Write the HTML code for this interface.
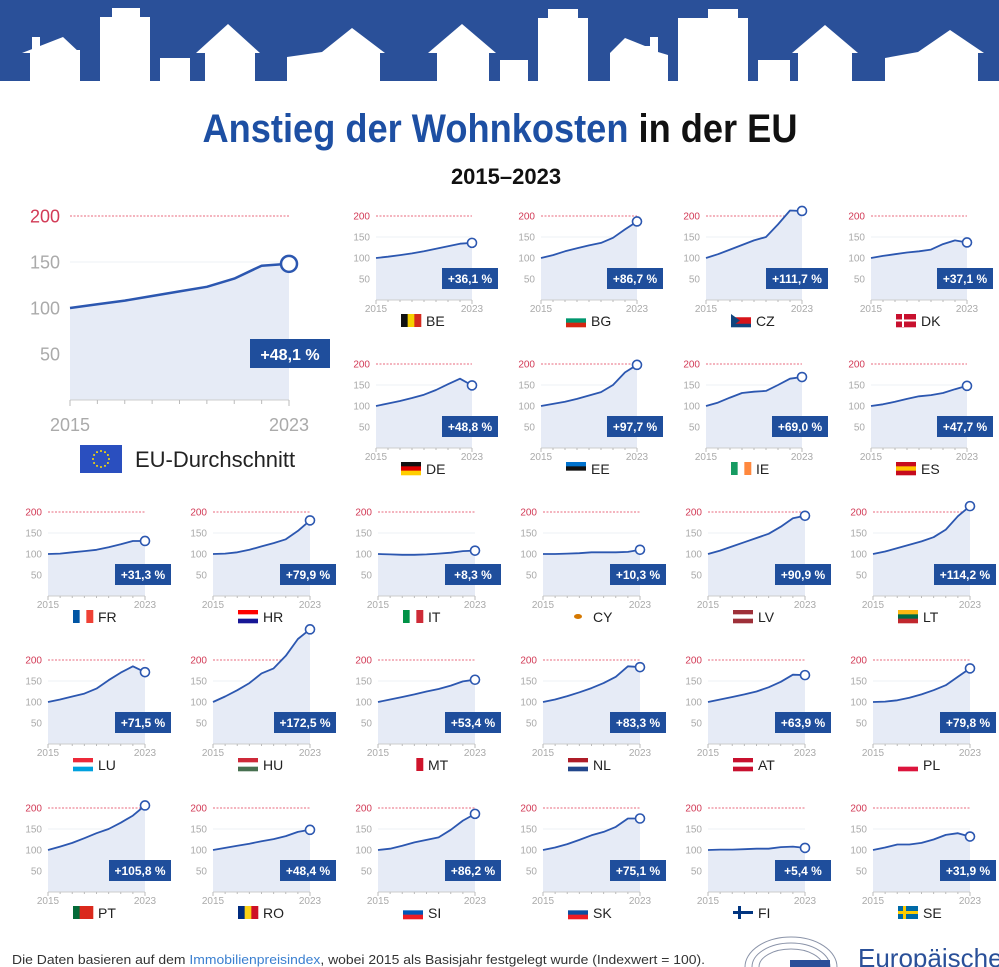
<!DOCTYPE html>
<html><head><meta charset="utf-8"><style>
html,body{margin:0;padding:0;background:#fff;width:999px;height:967px;overflow:hidden}
svg{display:block}
</style></head><body>
<svg id="s" width="999" height="967" viewBox="0 0 999 967" xmlns="http://www.w3.org/2000/svg" font-family="Liberation Sans, sans-serif">
<rect x="0" y="0" width="999" height="81" fill="#2a5099"/>
<g fill="#fff">
<rect x="30" y="50" width="50" height="32"/><rect x="32" y="37" width="8" height="15"/><polygon points="22,53 63,37 80,53"/>
<rect x="100" y="17" width="50" height="65"/><rect x="112" y="8" width="28" height="12"/>
<rect x="160" y="58" width="30" height="24"/>
<rect x="205" y="50" width="50" height="32"/><polygon points="196,53 228,24 260,53"/>
<polygon points="287,57 322,52 352,28 385,53 380,53 380,82 287,82"/>
<rect x="437" y="50" width="52" height="32"/><polygon points="428,53 462,24 496,53"/>
<rect x="500" y="60" width="28" height="22"/>
<rect x="538" y="18" width="50" height="64"/><rect x="548" y="9" width="30" height="12"/>
<polygon points="610,53 625,38 645,46 650,46 650,37 658,37 658,52 668,55 668,82 610,82"/>
<rect x="678" y="18" width="70" height="64"/><rect x="708" y="9" width="30" height="12"/>
<rect x="758" y="60" width="32" height="22"/>
<rect x="798" y="50" width="54" height="32"/><polygon points="792,53 825,25 858,53"/>
<polygon points="885,58 918,52 950,30 984,53 978,53 978,82 885,82"/>
</g>
<text x="500" y="142" text-anchor="middle" font-size="40" font-weight="bold" font-stretch="condensed" style="font-family:'Liberation Sans Narrow','Liberation Sans',sans-serif" textLength="595" lengthAdjust="spacingAndGlyphs"><tspan fill="#1d4fa3">Anstieg der Wohnkosten</tspan><tspan fill="#111"> in der EU</tspan></text>
<text x="506" y="184" text-anchor="middle" font-size="22" font-weight="bold" fill="#111" style="font-family:'Liberation Sans Narrow','Liberation Sans',sans-serif">2015–2023</text>
<g id="charts"></g>
<text x="12" y="964" font-size="12.5" fill="#333" textLength="693" lengthAdjust="spacingAndGlyphs" style="font-family:'Liberation Sans Narrow','Liberation Sans',sans-serif">Die Daten basieren auf dem <tspan fill="#3a7fd0">Immobilienpreisindex</tspan>, wobei 2015 als Basisjahr festgelegt wurde (Indexwert = 100).</text>
<g stroke="#8a93a8" fill="none" stroke-width="1"><path d="M745,967 A46,30 0 0 1 837,967"/><path d="M752,967 A39,24 0 0 1 830,967"/><path d="M759,967 A32,18 0 0 1 823,967"/></g>
<rect x="790" y="960" width="40" height="7" fill="#2a5099"/>
<text x="858" y="967" font-size="26" fill="#2a5099">Europäische</text>
</svg>
<script>
const D={BE:[100,103,107,111,116,122,128,134,136],BG:[100,107,116,123,130,136,148,168,187],CZ:[100,109,120,131,142,150,180,213,212],DK:[100,105,109,113,116,120,133,142,137],
DE:[100,106,112,119,127,138,152,165,149],EE:[100,105,110,117,125,133,150,180,198],IE:[100,108,120,131,134,136,150,165,169],ES:[100,104,110,117,123,126,131,140,148],
FR:[100,101,104,107,110,116,123,131,131],HR:[100,101,104,110,118,126,135,155,180],IT:[100,99,98,98,99,101,103,107,108],CY:[100,100,101,102,104,104,104,105,110],
LV:[100,108,118,128,138,148,165,185,191],LT:[100,106,114,122,130,140,158,190,214],LU:[100,106,113,120,132,152,170,185,171],HU:[100,113,128,145,168,180,210,250,273],
MT:[100,106,112,118,125,131,139,149,153],NL:[100,106,114,123,133,145,160,185,183],AT:[100,106,112,118,125,135,148,165,164],PL:[100,101,104,110,118,128,140,160,180],
PT:[100,108,117,128,140,150,165,182,206],RO:[100,105,110,115,121,126,133,143,148],SI:[100,103,110,118,124,130,148,170,186],SK:[100,106,114,124,135,143,155,175,175],
FI:[100,101,101,102,103,103,107,108,105],SE:[100,106,113,113,117,125,136,140,132]};
const P={BE:"+36,1 %",BG:"+86,7 %",CZ:"+111,7 %",DK:"+37,1 %",DE:"+48,8 %",EE:"+97,7 %",IE:"+69,0 %",ES:"+47,7 %",FR:"+31,3 %",HR:"+79,9 %",IT:"+8,3 %",CY:"+10,3 %",LV:"+90,9 %",LT:"+114,2 %",LU:"+71,5 %",HU:"+172,5 %",MT:"+53,4 %",NL:"+83,3 %",AT:"+63,9 %",PL:"+79,8 %",PT:"+105,8 %",RO:"+48,4 %",SI:"+86,2 %",SK:"+75,1 %",FI:"+5,4 %",SE:"+31,9 %"};
const F={BE:["v","#111","#f5d000","#d52b1e"],BG:["h","#fff","#00966e","#d62612"],CZ:["h","#fff","#d7141a","#d7141a","#11457e"],DK:["h","#c8102e","#c8102e","#c8102e"],DE:["h","#111","#d00","#ffce00"],EE:["h","#0072ce","#111","#fff"],IE:["v","#169b62","#fff","#ff883e"],ES:["h","#c60b1e","#ffc400","#c60b1e"],FR:["v","#0055a4","#fff","#ef4135"],HR:["h","#f00","#fff","#171796"],IT:["v","#009246","#fff","#ce2b37"],CY:["h","#fff","#fff","#fff"],LV:["h","#9e3039","#fff","#9e3039"],LT:["h","#fdb913","#006a44","#c1272d"],LU:["h","#ed2939","#fff","#00a1de"],HU:["h","#ce2939","#fff","#477050"],MT:["v","#fff","#fff","#cf142b"],NL:["h","#ae1c28","#fff","#21468b"],AT:["h","#c8102e","#fff","#c8102e"],PL:["h","#fff","#fff","#dc143c"],PT:["v","#046a38","#da291c","#da291c"],RO:["v","#002b7f","#fcd116","#ce1126"],SI:["h","#fff","#0057b8","#ed1c24"],SK:["h","#fff","#0b4ea2","#ee1c25"],FI:["h","#fff","#003580","#fff"],SE:["h","#006aa7","#fecc00","#006aa7"]};
let out="";
function flag(c,x,y,w,h){const f=F[c];let s="";const n=f.length-1;for(let i=0;i<n;i++){if(f[0]=="v")s+=`<rect x="${x+i*w/n}" y="${y}" width="${w/n+0.3}" height="${h}" fill="${f[i+1]}"/>`;else s+=`<rect x="${x}" y="${y+i*h/n}" width="${w}" height="${h/n+0.3}" fill="${f[i+1]}"/>`;}
if(c=="DK")s+=`<rect x="${x+6}" y="${y}" width="2" height="${h}" fill="#fff"/><rect x="${x}" y="${y+5.5}" width="${w}" height="2" fill="#fff"/>`;
if(c=="FI")s=`<rect x="${x}" y="${y}" width="${w}" height="${h}" fill="#fff"/><rect x="${x+5}" y="${y}" width="3" height="${h}" fill="#003580"/><rect x="${x}" y="${y+5}" width="${w}" height="3" fill="#003580"/>`;
if(c=="SE")s=`<rect x="${x}" y="${y}" width="${w}" height="${h}" fill="#006aa7"/><rect x="${x+5}" y="${y}" width="3" height="${h}" fill="#fecc00"/><rect x="${x}" y="${y+5}" width="${w}" height="3" fill="#fecc00"/>`;
if(c=="CZ")s+=`<polygon points="${x},${y} ${x+9},${y+h/2} ${x},${y+h}" fill="#11457e"/>`;
if(c=="CY")s+=`<ellipse cx="${x+w/2}" cy="${y+h/2}" rx="4" ry="2.5" fill="#d57800"/>`;
return s;}
function chart(x0,top,w,sc,vals,pct,big){
 const base=top+200*sc;const yv=v=>top+(200-v)*sc;const step=w/8;
 let s="";const fs=big?18:10;
 s+=`<line x1="${x0}" y1="${top}" x2="${x0+w}" y2="${top}" stroke="#e86a7e" stroke-width="1" stroke-dasharray="2,1.5"/>`;
 [[200,"#d23a56"],[150,"#aaa"],[100,"#aaa"],[50,"#aaa"]].forEach(([v,c])=>{s+=`<text x="${x0-(big?10:6)}" y="${yv(v)+fs*0.36}" text-anchor="end" font-size="${fs}" fill="${c}">${v}</text>`;if(v<200)s+=`<line x1="${x0}" x2="${x0+w}" y1="${yv(v)}" y2="${yv(v)}" stroke="#eef0f4"/>`;});
 let pts=vals.map((v,i)=>[x0+i*step,yv(v)]);
 let d="M"+pts.map(p=>p[0].toFixed(1)+","+p[1].toFixed(1)).join(" L");
 s+=`<path d="${d} L${x0+w},${base} L${x0},${base} Z" fill="#e6ebf6"/>`;
 s+=`<line x1="${x0}" x2="${x0+w}" y1="${base}" y2="${base}" stroke="#ccc"/>`;
 for(let i=0;i<9;i++)s+=`<line x1="${x0+i*step}" x2="${x0+i*step}" y1="${base}" y2="${base+(i==0||i==8?(big?6:4):(big?4:2))}" stroke="#bbb"/>`;
 s+=`<path d="${d}" fill="none" stroke="#2c57b0" stroke-width="${big?2.5:1.8}" stroke-linejoin="round"/>`;
 const e=pts[8];s+=`<circle cx="${e[0]}" cy="${e[1]}" r="${big?8:4.5}" fill="#fff" stroke="#2c57b0" stroke-width="${big?2.5:1.6}"/>`;
 const yf=big?18:10;
 s+=`<text x="${x0}" y="${base+(big?31:12)}" text-anchor="middle" font-size="${yf}" fill="#aaa">2015</text><text x="${x0+w}" y="${base+(big?31:12)}" text-anchor="middle" font-size="${yf}" fill="#aaa">2023</text>`;
 if(big){s+=`<rect x="250" y="339" width="80" height="29" fill="#1f4e9c"/><text x="290" y="360" text-anchor="middle" font-size="16" font-weight="bold" fill="#fff">${pct}</text>`;}
 else{const bw=pct.length>7?62:56;const bx=x0+w+26-bw;s+=`<rect x="${bx}" y="${top+52}" width="${bw}" height="21" fill="#1f4e9c"/><text x="${bx+bw/2}" y="${top+67}" text-anchor="middle" font-size="12" font-weight="bold" fill="#fff">${pct}</text>`;}
 return s;}
out+=chart(70,216,219,0.92,[100,104,108,113,118,123,132,146,148],"+48,1 %",true);
out+=`<rect x="80" y="445" width="42" height="28" fill="#2a4fbf"/>`;
for(let i=0;i<12;i++){const a=i*Math.PI/6;out+=`<circle cx="${101+8*Math.cos(a)}" cy="${459+8*Math.sin(a)}" r="1" fill="#ffdd00"/>`;}
out+=`<text x="135" y="467" font-size="22" fill="#222">EU-Durchschnitt</text>`;
const top2=["BE","BG","CZ","DK","DE","EE","IE","ES"];
top2.forEach((c,i)=>{const x0=376+165*(i%4),t=216+148*Math.floor(i/4);out+=chart(x0,t,96,0.42,D[c],P[c]);out+=flag(c,x0+25,t+98,20,13)+`<text x="${x0+50}" y="${t+110}" font-size="14" fill="#222">${c}</text>`;});
const rest=["FR","HR","IT","CY","LV","LT","LU","HU","MT","NL","AT","PL","PT","RO","SI","SK","FI","SE"];
rest.forEach((c,i)=>{const x0=48+165*(i%6),t=512+148*Math.floor(i/6);out+=chart(x0,t,97,0.42,D[c],P[c]);out+=flag(c,x0+25,t+98,20,13)+`<text x="${x0+50}" y="${t+110}" font-size="14" fill="#222">${c}</text>`;});
document.getElementById("charts").innerHTML=out;
</script>
</body></html>
